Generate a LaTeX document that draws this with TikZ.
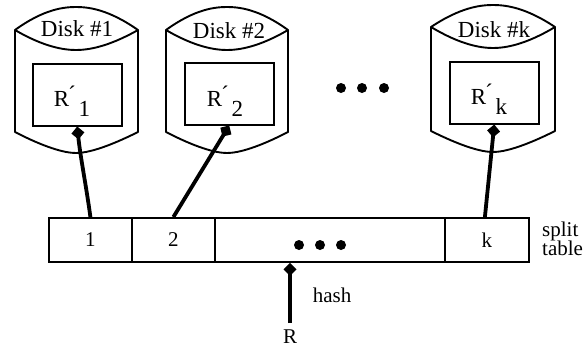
\documentclass[tikz,border=0pt]{standalone}
\usepackage{fontspec}
\setmainfont{Liberation Serif}
\usetikzlibrary{arrows.meta,calc}
\tikzset{
  outline/.style={line width=1.9pt,line join=round,black},
  inner/.style={draw,line width=1.5pt,minimum width=89pt,minimum height=62pt,inner sep=0pt,anchor=north west},
  cell/.style={draw,line width=1.8pt,minimum height=44pt,inner sep=0pt,anchor=north west,font=\fontsize{21}{21}\selectfont},
  disklabel/.style={inner sep=0pt,font=\fontsize{23}{23}\selectfont},
  rlabel/.style={inner sep=0pt,font=\fontsize{23}{23}\selectfont},
  link/.style={line width=3.8pt,-{Diamond[length=13pt,width=13pt]}},
  dot/.style={circle,fill=black,inner sep=0pt,minimum size=10pt},
  txt/.style={inner sep=0pt,font=\fontsize{21}{21}\selectfont},
}
\newcommand{\drawdisk}[8]{%
  \draw[outline] (#1,#3) .. controls ({#8-32},{#4+2}) and ({#8-12},#4) .. (#8,#4)
     .. controls ({#8+12},#4) and ({#8+32},{#4+2}) .. (#2,#3)
     .. controls ({#8+32},{#5-3}) and ({#8+12},#5) .. (#8,#5)
     .. controls ({#8-12},#5) and ({#8-32},{#5-3}) .. (#1,#3) -- cycle;
  \draw[outline] (#1,#3) -- (#1,#6) .. controls ({#8-32},{#7-6}) and ({#8-12},#7) .. (#8,#7)
     .. controls ({#8+12},#7) and ({#8+32},{#7-6}) .. (#2,#6) -- (#2,#3);
}
\begin{document}
\begin{tikzpicture}[x=1pt,y=-1pt]
\useasboundingbox (0,0) rectangle (588,346);
\drawdisk{15}{138}{30}{7}{50}{132}{153}{76}
\drawdisk{166}{288}{30}{7}{50}{132}{153}{227}
\drawdisk{431}{555}{27}{5}{48}{131}{152}{493}
\node[disklabel] (d1) at (77,29) {Disk \#1};
\node[disklabel] (d2) at (229,31) {Disk \#2};
\node[disklabel] (dk) at (494,30) {Disk \#k};
\node[inner] (r1) at (32,63) {};
\node[inner] (r2) at (184,62) {};
\node[inner] (rk) at (449,61) {};
\node[rlabel] (t1) at (72,101) {R\'{}\raisebox{-10pt}{\,1}};
\node[rlabel] (t2) at (225,101) {R\'{}\raisebox{-10pt}{\,2}};
\node[rlabel] (tk) at (489,99) {R\'{}\raisebox{-10pt}{\,k}};
\node[dot] (a1) at (341,88) {};
\node[dot] (a2) at (362,88) {};
\node[dot] (a3) at (384,88) {};
\node[cell,minimum width=83pt] (c1) at (48,217) {1};
\node[cell,minimum width=83pt] (c2) at (131,217) {2};
\node[cell,minimum width=230pt] (c3) at (214,217) {};
\node[cell,minimum width=84pt] (c4) at (444,217) {k};
\node[dot] (b1) at (299,245) {};
\node[dot] (b2) at (320,245) {};
\node[dot] (b3) at (341,245) {};
\node[txt,anchor=west] (s1) at (542,231) {split};
\node[txt,anchor=west] (s2) at (542,248) {table};
\node[txt] (hash) at (332,295) {hash};
\node[inner sep=0pt,font=\fontsize{21}{21}\selectfont] (R) at (290,337) {R};
\draw[link] (c1.north) .. controls ($(c1.north)+(-4,-30)$) and ($(r1.south)+(3,30)$) .. (r1.south);
\draw[link] (c2.north) -- (r2.south);
\draw[link] ($(c4.north)+(-2,0)$) -- (rk.south);
\draw[link] (R.north |- 0,323) coordinate (hs) -- (hs |- c3.south);
\end{tikzpicture}
\end{document}
